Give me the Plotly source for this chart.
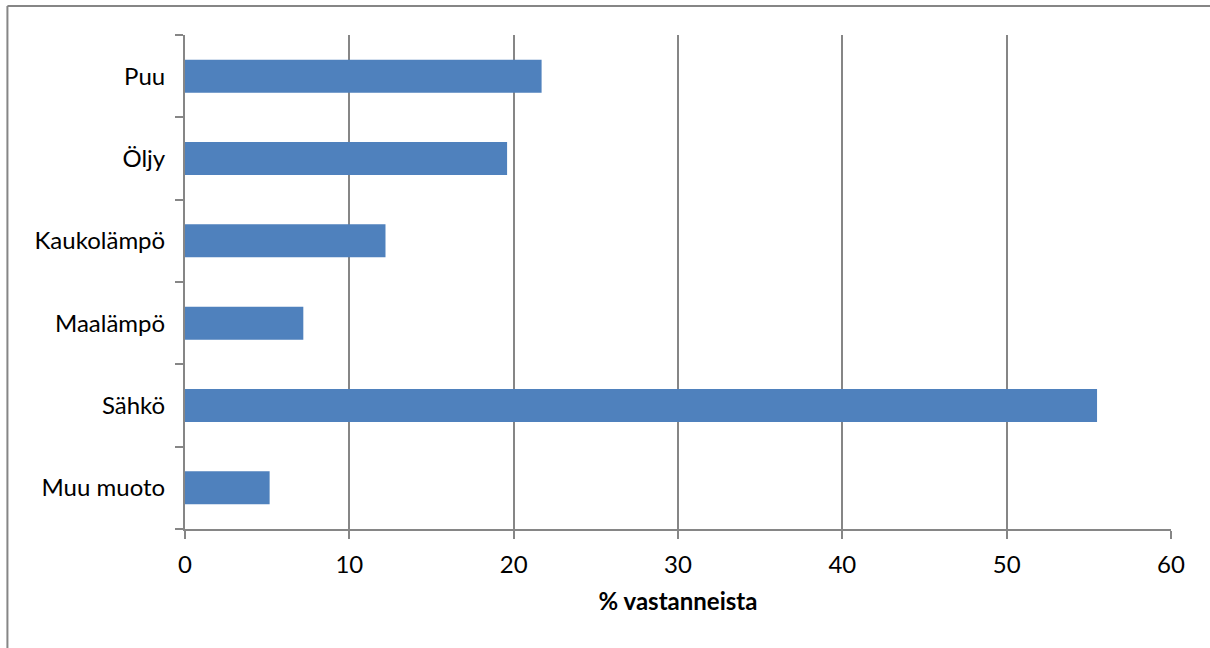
import plotly.graph_objects as go

categories = ["Puu", "Öljy", "Kaukolämpö", "Maalämpö", "Sähkö", "Muu muoto"]
values = [21.7, 19.6, 12.2, 7.2, 55.5, 5.15]
x_ticks = [0, 10, 20, 30, 40, 50, 60]
x_title = "% vastanneista"

FONT = "Lato"
GRAY = "#868686"
FS = 24

fig = go.Figure(go.Bar(
    x=values, y=categories, orientation="h",
    marker=dict(color="#4F81BD", line=dict(width=0)),
))

border = dict(color=GRAY, width=2)
fig.update_layout(
    width=1210, height=648,
    margin=dict(l=185, r=39, t=35, b=119),
    paper_bgcolor="white", plot_bgcolor="white",
    bargap=0.6,
    showlegend=False,
    font=dict(family=FONT, size=FS, color="black"),
    xaxis=dict(
        range=[0, 60], tickvals=x_ticks, ticks="outside", ticklen=8,
        tickcolor=GRAY, tickwidth=2,
        showgrid=True, gridcolor=GRAY, gridwidth=2,
        showline=True, linecolor=GRAY, linewidth=2,
        zeroline=False, ticklabelstandoff=5,
        title=dict(text="<b>" + x_title + "</b>", standoff=16, font=dict(size=FS)),
        tickfont=dict(size=FS),
        fixedrange=True,
    ),
    yaxis=dict(
        categoryorder="array", categoryarray=categories[::-1],
        ticks="outside", ticklen=8, tickcolor=GRAY, tickwidth=2,
        tickson="boundaries",
        showline=True, linecolor=GRAY, linewidth=2,
        showgrid=False, ticklabelstandoff=13,
        tickfont=dict(size=FS),
        fixedrange=True,
    ),
    shapes=[
        dict(type="line", xref="paper", yref="paper",
             x0=-0.1801, x1=1.2, y0=1.0588, y1=1.0588, line=border, layer="below"),
        dict(type="line", xref="paper", yref="paper",
             x0=-0.1801, x1=-0.1801, y0=-0.5, y1=1.0588, line=border, layer="below"),
    ],
)

fig.write_html(
    "out.html",
    config={"displayModeBar": False},
    post_script=(
        "document.documentElement.style.overflow='hidden';"
        "document.body.style.margin='0';document.body.style.overflow='hidden';"
    ),
)
